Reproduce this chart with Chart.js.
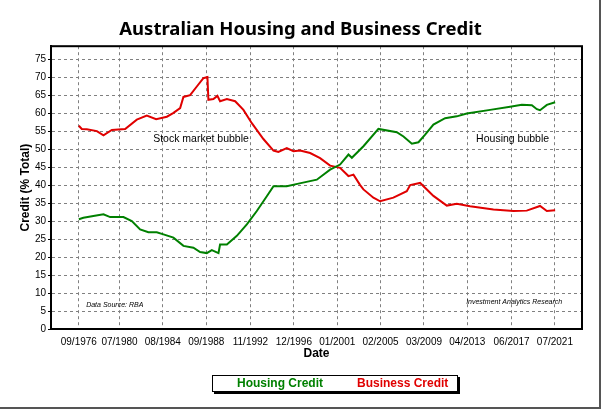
<!DOCTYPE html>
<html>
<head>
<meta charset="utf-8">
<script src="https://cdn.jsdelivr.net/npm/chart.js@4.4.0/dist/chart.umd.min.js"></script>
<style>
  html, body { margin: 0; padding: 0; background: #fff; }
  #wrap { position: relative; width: 601px; height: 411px; overflow: hidden; }
  #frame { position: absolute; left: 0; top: 0; width: 599px; height: 407px;
           border-right: 2px solid #555; border-bottom: 2px solid #555; pointer-events: none; }
  #legend { position: absolute; left: 212px; top: 375px; width: 244px; height: 15px;
            border: 1px solid #000; box-shadow: 2px 2px 0 #000; background: #fff;
            font: bold 12px "Liberation Sans", Arial, sans-serif; line-height: 15px; }
  #legend span { position: absolute; top: 0; white-space: nowrap; }
</style>
</head>
<body>
<div id="wrap">
  <canvas id="creditChart" width="601" height="411"></canvas>
  <div id="legend">
    <span style="left:24px;color:#008000">Housing Credit</span>
    <span style="left:144px;color:#e00000">Business Credit</span>
  </div>
  <div id="frame"></div>
</div>
<script>
// Valeurs (année décimale, % du crédit total)
const housingYears = [1976.67, 1977.10, 1978.04, 1978.99, 1979.62, 1980.87, 1981.66, 1982.44, 1983.22, 1984.01,
    1984.64, 1985.58, 1986.52, 1987.46, 1988.09, 1988.72, 1989.19, 1989.82, 1989.97, 1990.61,
    1991.55, 1992.49, 1993.43, 1994.37, 1995.00, 1996.25, 1997.35, 1999.08, 2000.33, 2001.27,
    2002.06, 2002.38, 2003.47, 2004.88, 2006.61, 2007.24, 2008.03, 2008.65, 2009.28, 2010.06,
    2011.16, 2012.26, 2013.20, 2015.40, 2017.28, 2018.38, 2019.33, 2019.80, 2020.10, 2020.74, 2021.52];
const housingValues = [30.5, 30.9, 31.4, 31.9, 31.1, 31.1, 30.0, 27.7, 26.9, 26.9,
    26.3, 25.4, 23.1, 22.6, 21.4, 21.1, 21.9, 21.1, 23.5, 23.5,
    25.9, 29.1, 32.8, 36.9, 39.7, 39.7, 40.4, 41.5, 44.3, 45.7,
    48.5, 47.6, 50.8, 55.6, 54.7, 53.5, 51.5, 51.9, 54.0, 56.8,
    58.6, 59.1, 59.9, 60.9, 61.8, 62.3, 62.2, 61.1, 60.8, 62.3, 63.0];

const businessYears = [1976.67, 1976.95, 1977.42, 1978.37, 1978.99, 1979.78, 1981.03, 1982.13, 1983.07, 1983.95,
    1984.96, 1985.55, 1986.21, 1986.52, 1987.15, 1987.78, 1988.40, 1988.78, 1988.87, 1989.34,
    1989.72, 1989.97, 1990.61, 1991.39, 1992.17, 1992.96, 1994.05, 1995.00, 1995.46, 1996.25,
    1996.88, 1997.51, 1998.45, 1999.39, 2000.33, 2001.27, 2002.06, 2002.53, 2003.16, 2003.47,
    2004.41, 2005.04, 2006.29, 2007.55, 2007.87, 2008.81, 2010.06, 2011.32, 2012.26, 2013.51,
    2015.71, 2017.59, 2018.85, 2020.10, 2020.74, 2021.52];
const businessValues = [56.5, 55.6, 55.5, 55.0, 53.8, 55.3, 55.6, 58.2, 59.3, 58.3,
    59.0, 60.0, 61.4, 64.5, 65.0, 67.4, 69.7, 70.0, 63.7, 63.9,
    64.8, 63.3, 63.9, 63.3, 60.9, 57.2, 52.8, 49.6, 49.2, 50.3,
    49.4, 49.6, 48.9, 47.5, 45.4, 44.8, 42.5, 42.9, 40.0, 38.8,
    36.5, 35.5, 36.5, 38.3, 40.0, 40.6, 37.0, 34.3, 34.8, 34.1,
    33.2, 32.8, 32.9, 34.2, 32.8, 33.0];

const tickYears = [1976.67, 1980.5, 1984.58, 1988.67, 1992.83, 1996.92, 2001.0, 2005.08, 2009.17, 2013.25, 2017.42, 2021.5];
const tickLabels = ['09/1976', '07/1980', '08/1984', '09/1988', '11/1992', '12/1996',
    '01/2001', '02/2005', '03/2009', '04/2013', '06/2017', '07/2021'];

const toPoints = (xs, ys) => xs.map((x, i) => ({ x: x, y: ys[i] }));

// Textes dans la zone du graphique
const notes = [
    { text: 'Stock market bubble', x: 1983.67, y: 52.9, font: '10.5px "Liberation Sans", Arial' },
    { text: 'Housing bubble', x: 2014.08, y: 52.9, font: '10.5px "Liberation Sans", Arial' },
    { text: 'Data Source: RBA', x: 1977.36, y: 6.6, font: 'italic 7px "Liberation Sans", Arial' },
    { text: 'Investment Analytics Research', x: 2013.14, y: 7.5, font: 'italic 7px "Liberation Sans", Arial' }
];

const notesPlugin = {
    id: 'notes',
    afterDatasetsDraw(chart) {
        const ctx = chart.ctx;
        const xs = chart.scales.x, ys = chart.scales.y;
        ctx.save();
        ctx.fillStyle = '#000';
        ctx.textAlign = 'left';
        ctx.textBaseline = 'middle';
        notes.forEach(n => {
            ctx.font = n.font;
            ctx.fillText(n.text, xs.getPixelForValue(n.x), ys.getPixelForValue(n.y));
        });
        ctx.restore();
    },
    afterDraw(chart) {
        const a = chart.chartArea;
        const ctx = chart.ctx;
        ctx.save();
        ctx.strokeStyle = '#000';
        ctx.lineWidth = 2;
        ctx.strokeRect(a.left, a.top, a.right - a.left, a.bottom - a.top);
        ctx.restore();
    }
};

const ctx = document.getElementById('creditChart').getContext('2d');
const creditChart = new Chart(ctx, {
    type: 'line',
    data: {
        datasets: [{
            label: 'Housing Credit',
            data: toPoints(housingYears, housingValues),
            borderColor: '#008000',
            borderWidth: 2,
            pointRadius: 0,
            tension: 0
        }, {
            label: 'Business Credit',
            data: toPoints(businessYears, businessValues),
            borderColor: '#e00000',
            borderWidth: 2,
            pointRadius: 0,
            tension: 0
        }]
    },
    plugins: [notesPlugin],
    options: {
        responsive: false,
        animation: false,
        layout: { padding: { top: 0, left: 0, right: 0, bottom: 50 } },
        plugins: {
            legend: { display: false },
            tooltip: { enabled: false },
            title: {
                display: true,
                text: 'Australian Housing and Business Credit',
                color: '#000',
                font: { family: '"Noto Sans", sans-serif', size: 18.5, weight: 'bold', lineHeight: 1.2 },
                padding: { top: 19, bottom: 5 }
            }
        },
        scales: {
            x: {
                type: 'linear',
                min: 1974.05,
                max: 2024.05,
                afterBuildTicks: scale => { scale.ticks = tickYears.map(v => ({ value: v })); },
                afterFit: scale => { scale.height = 32; },
                ticks: {
                    autoSkip: false,
                    maxRotation: 0,
                    padding: 7,
                    color: '#000',
                    font: { family: '"Liberation Sans", Arial', size: 10 },
                    callback: (v, i) => tickLabels[i]
                },
                grid: { color: '#808080', lineWidth: 1, drawTicks: false },
                border: { color: '#000', width: 2, dash: [3, 3] },
                title: {
                    display: true,
                    text: 'Date',
                    color: '#000',
                    font: { family: '"Liberation Sans", Arial', size: 12, weight: 'bold' },
                    padding: { top: 0, bottom: 0 }
                }
            },
            y: {
                min: 0,
                max: 78.6,
                afterBuildTicks: scale => { scale.ticks = scale.ticks.filter(t => t.value <= 75); },
                afterFit: scale => { scale.width = 51; },
                ticks: {
                    stepSize: 5,
                    padding: 2,
                    color: '#000',
                    font: { family: '"Liberation Sans", Arial', size: 10 }
                },
                grid: { color: '#808080', lineWidth: 1, tickLength: 3, tickColor: '#000' },
                border: { color: '#000', width: 2, dash: [3, 3] },
                title: {
                    display: true,
                    text: 'Credit (% Total)',
                    color: '#000',
                    font: { family: '"Liberation Sans", Arial', size: 12, weight: 'bold' },
                    padding: { top: 18, bottom: 0 }
                }
            },
            // marge droite vide, pour garder le titre centré sur toute la largeur
            spacer: {
                type: 'linear',
                position: 'right',
                display: true,
                afterFit: scale => { scale.width = 19; },
                ticks: { display: false },
                grid: { display: false, drawTicks: false },
                border: { display: false }
            }
        }
    }
});
</script>
</body>
</html>
